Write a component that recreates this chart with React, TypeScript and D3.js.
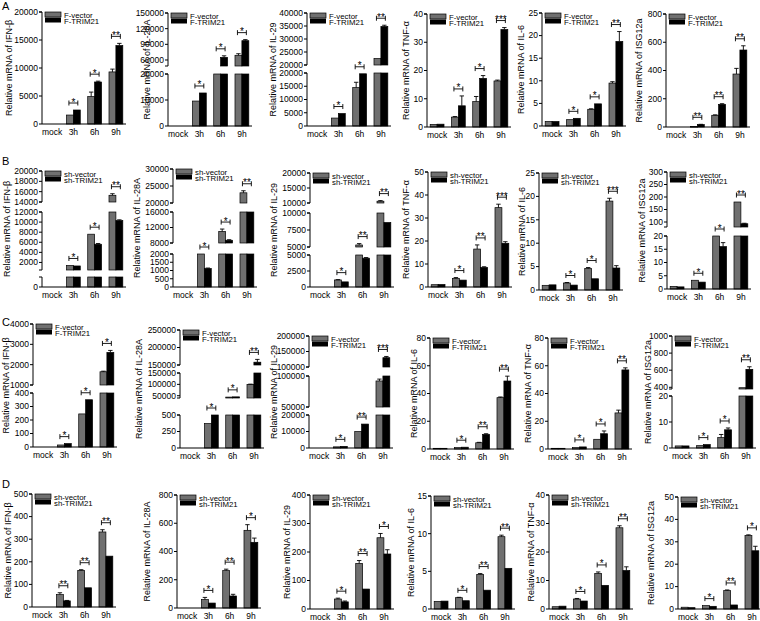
import * as d3 from "d3";

const categories = ["mock", "3h", "6h", "9h"];
const rowLetters = ["A", "B", "C", "D"];
const genesAB = ["IFN-β", "IL-28A", "IL-29", "TNF-α", "IL-6", "ISG12a"];
const genesCD = ["IFN-β", "IL-28A", "IL-29", "IL-6", "TNF-α", "ISG12a"];
const legendF = ["F-vector", "F-TRIM21"];
const legendSh = ["sh-vector", "sh-TRIM21"];

// ---- row A : overexpression
const aVector = [
  [0, 1600, 4900, 9300],
  [0, 9600, 35000, 69000],
  [0, 3000, 14500, 22500],
  [0.9, 3.5, 9, 16.3],
  [1, 1.4, 3.7, 9.5],
  [0, 3, 83, 375],
];
const aVectorErr = [
  [0, 0, 800, 500],
  [0, 0, 0, 3000],
  [0, 0, 2000, 0],
  [0, 0.2, 1.8, 0.3],
  [0, 0, 0.1, 0.3],
  [0, 0, 3, 40],
];
const aTrim = [
  [0, 2500, 7500, 14000],
  [0, 12700, 65000, 97000],
  [0, 4700, 19700, 34800],
  [1, 7.5, 17.2, 34.5],
  [1, 1.7, 4.9, 18.7],
  [0, 17, 160, 545],
];
const aTrimErr = [
  [0, 0, 150, 400],
  [0, 0, 3000, 2000],
  [0, 0, 0, 500],
  [0, 3.5, 1, 0.7],
  [0, 0, 0, 2.2],
  [0, 2, 5, 30],
];
const aStars = [
  ["*", "*", "**"], ["*", "*", "*"], ["*", "*", "**"],
  ["*", "*", "***"], ["*", "*", "**"], ["**", "**", "**"],
];
const aAxes = [
  [{ lo: 0, hi: 20000, ticks: [0, 5000, 10000, 15000, 20000] }],
  [{ lo: 0, hi: 20000, ticks: [0, 10000, 20000] }, { lo: 48500, hi: 150000, ticks: [60000, 90000, 120000, 150000] }],
  [{ lo: 0, hi: 20000, ticks: [0, 5000, 10000, 15000, 20000] }, { lo: 20000, hi: 40000, ticks: [20000, 25000, 30000, 35000, 40000] }],
  [{ lo: 0, hi: 40, ticks: [0, 10, 20, 30, 40] }],
  [{ lo: 0, hi: 25, ticks: [0, 5, 10, 15, 20, 25] }],
  [{ lo: 0, hi: 800, ticks: [0, 200, 400, 600, 800] }],
];

// ---- row B : knockdown
const bVector = [
  [0, 1400, 7600, 15300],
  [0, 3000, 11000, 23000],
  [0, 1100, 5300, 10600],
  [1, 3.7, 16.5, 34.5],
  [1, 1.5, 4.6, 19],
  [1, 3.3, 50, 180],
];
const bVectorErr = [
  [0, 0, 0, 300],
  [0, 0, 600, 600],
  [0, 50, 200, 200],
  [0, 0.4, 1.8, 1.5],
  [0, 0.1, 0.2, 0.6],
  [0, 0, 0, 0],
];
const bTrim = [
  [0, 1300, 5600, 10300],
  [0, 1120, 8700, 17000],
  [0, 800, 4500, 8600],
  [1.1, 3, 8.5, 19],
  [1.1, 1.05, 2.4, 4.7],
  [0.8, 2.6, 16, 93],
];
const bTrimErr = [
  [0, 0, 150, 150],
  [0, 30, 150, 0],
  [0, 0, 100, 0],
  [0, 0, 0.3, 0.7],
  [0, 0, 0, 0.5],
  [0, 0, 1.5, 2],
];
const bStars = [
  ["*", "*", "**"], ["*", "*", "**"], ["*", "**", "**"],
  ["*", "**", "***"], ["*", "*", "***"], ["*", "*", "**"],
];
const bAxes = [
  [{ lo: 0, hi: 500, ticks: [0] }, { lo: 500, hi: 12000, ticks: [2000, 4000, 6000, 8000, 10000, 12000] }, { lo: 14000, hi: 20000, ticks: [14000, 16000, 18000, 20000] }],
  [{ lo: 0, hi: 2000, ticks: [0, 500, 1000, 1500, 2000] }, { lo: 8000, hi: 16000, ticks: [8000, 12000, 16000] }, { lo: 20000, hi: 30000, ticks: [20000, 25000, 30000] }],
  [{ lo: 0, hi: 5000, ticks: [0, 2500, 5000] }, { lo: 5000, hi: 10000, ticks: [5000, 7500, 10000] }, { lo: 10000, hi: 20000, ticks: [10000, 15000, 20000] }],
  [{ lo: 0, hi: 50, ticks: [0, 10, 20, 30, 40, 50] }],
  [{ lo: 0, hi: 25, ticks: [0, 5, 10, 15, 20, 25] }],
  [{ lo: 0, hi: 20, ticks: [0, 5, 10, 15, 20] }, { lo: 80, hi: 300, ticks: [100, 150, 200, 250, 300] }],
];

// ---- row C : overexpression
const cVector = [
  [0, 15, 245, 1650],
  [0, 370, 44000, 100000],
  [0, 700, 10000, 92000],
  [0.5, 1, 4.5, 37],
  [0.5, 1, 7, 26],
  [0.8, 0.9, 4, 395],
];
const cVectorErr = [
  [0, 0, 0, 30],
  [0, 0, 0, 1000],
  [0, 0, 0, 3000],
  [0, 0, 0.3, 0.5],
  [0, 0, 0, 2],
  [0, 0, 1.2, 0],
];
const cTrim = [
  [0, 25, 350, 2600],
  [0, 600, 45000, 158000],
  [0, 1000, 14500, 130000],
  [0.5, 1.3, 10.5, 49],
  [0.5, 1.5, 11, 57],
  [0.8, 1.3, 7, 610],
];
const cTrimErr = [
  [0, 0, 0, 100],
  [0, 0, 0, 8000],
  [0, 0, 0, 4000],
  [0, 0, 0.5, 3.5],
  [0, 0, 2, 1.5],
  [0, 0, 0.7, 30],
];
const cStars = [
  ["*", "*", "*"], ["*", "*", "**"], ["*", "**", "***"],
  ["*", "**", "**"], ["*", "*", "**"], ["*", "*", "**"],
];
const cAxes = [
  [{ lo: 0, hi: 400, ticks: [0, 100, 200, 300, 400] }, { lo: 1000, hi: 4000, ticks: [1000, 2000, 3000, 4000] }],
  [{ lo: 0, hi: 500, ticks: [0, 250, 500] }, { lo: 40000, hi: 150000, ticks: [50000, 100000, 150000] }, { lo: 150000, hi: 250000, ticks: [150000, 200000, 250000] }],
  [{ lo: 0, hi: 20000, ticks: [0, 10000, 20000] }, { lo: 50000, hi: 100000, ticks: [50000, 100000] }, { lo: 100000, hi: 200000, ticks: [100000, 150000, 200000] }],
  [{ lo: 0, hi: 80, ticks: [0, 20, 40, 60, 80] }],
  [{ lo: 0, hi: 80, ticks: [0, 20, 40, 60, 80] }],
  [{ lo: 0, hi: 20, ticks: [0, 10, 20] }, { lo: 380, hi: 1000, ticks: [400, 600, 800, 1000] }],
];

// ---- row D : knockdown
const dVector = [
  [0, 55, 162, 332],
  [0, 60, 265, 550],
  [0, 35, 160, 250],
  [1, 1.5, 4.6, 9.6],
  [0.8, 3.5, 12.5, 28.5],
  [0.8, 1.5, 8.2, 32.8],
];
const dVectorErr = [
  [0, 8, 3, 10],
  [0, 15, 10, 40],
  [0, 3, 10, 15],
  [0, 0.05, 0.1, 0.2],
  [0, 0.2, 0.5, 0.7],
  [0, 0, 0.3, 0.3],
];
const dTrim = [
  [0, 27, 85, 225],
  [0, 35, 85, 465],
  [0, 25, 70, 193],
  [1.05, 1.1, 2.5, 5.4],
  [1, 2.8, 8.3, 13.5],
  [0.6, 1.2, 1.8, 26],
];
const dTrimErr = [
  [0, 2, 0, 0],
  [0, 0, 12, 30],
  [0, 3, 0, 15],
  [0, 0, 0, 0],
  [0, 0, 0, 1.3],
  [0, 0, 0, 2],
];
const dStars = [
  ["**", "**", "**"], ["*", "**", "*"], ["*", "**", "*"],
  ["*", "**", "**"], ["*", "*", "**"], ["*", "**", "*"],
];
const dAxes = [
  [{ lo: 0, hi: 500, ticks: [0, 100, 200, 300, 400, 500] }],
  [{ lo: 0, hi: 800, ticks: [0, 200, 400, 600, 800] }],
  [{ lo: 0, hi: 400, ticks: [0, 100, 200, 300, 400] }],
  [{ lo: 0, hi: 15, ticks: [0, 5, 10, 15] }],
  [{ lo: 0, hi: 40, ticks: [0, 10, 20, 30, 40] }],
  [{ lo: 0, hi: 50, ticks: [0, 10, 20, 30, 40, 50] }],
];

// ---- layout: y-axis x, label baseline x, pixel range of each axis segment (bottom, top)
type Lay = { ax: number; lx: number; segs: [number, number][] };
const layouts: Lay[][] = [
  [
    { ax: 42, lx: 12, segs: [[124, 12]] },
    { ax: 168, lx: 150, segs: [[126, 74], [66, 13]] },
    { ax: 307, lx: 276, segs: [[126, 73], [65, 13]] },
    { ax: 427, lx: 409, segs: [[127, 14]] },
    { ax: 542, lx: 524, segs: [[126, 13]] },
    { ax: 666, lx: 642, segs: [[127, 14]] },
  ],
  [
    { ax: 42, lx: 10, segs: [[287, 277], [270, 212], [202, 171]] },
    { ax: 173, lx: 140, segs: [[287, 254], [243, 212], [203, 169]] },
    { ax: 310, lx: 277, segs: [[287, 255], [247, 213], [203, 173]] },
    { ax: 428, lx: 409, segs: [[287, 172]] },
    { ax: 539, lx: 525, segs: [[290, 173]] },
    { ax: 667, lx: 645, segs: [[289, 236], [227, 172]] },
  ],
  [
    { ax: 33, lx: 9, segs: [[447, 393], [385, 324]] },
    { ax: 180, lx: 142, segs: [[448, 415], [398, 373], [365, 330]] },
    { ax: 309, lx: 277, segs: [[448, 415], [407, 376], [367, 336]] },
    { ax: 430, lx: 417, segs: [[449, 338]] },
    { ax: 548, lx: 531, segs: [[449, 338]] },
    { ax: 672, lx: 651, segs: [[448, 396], [389, 336]] },
  ],
  [
    { ax: 32, lx: 11, segs: [[607, 494]] },
    { ax: 177, lx: 150, segs: [[608, 495]] },
    { ax: 310, lx: 290, segs: [[609, 495]] },
    { ax: 431, lx: 414, segs: [[609, 496]] },
    { ax: 549, lx: 534, segs: [[609, 495]] },
    { ax: 678, lx: 654, segs: [[609, 497]] },
  ],
];
const letterY = [10, 165, 326, 488];

type Seg = { lo: number; hi: number; ticks: number[] };

const FONT = "'Liberation Sans', Arial, sans-serif";
const GRAY = "#707070";

function Panel(props: {
  gene: string; legend: string[]; ctrl: number[]; trim: number[];
  ctrlErr: number[]; trimErr: number[]; stars: string[]; axis: Seg[]; lay: Lay;
}) {
  const { gene, legend, ctrl, trim, ctrlErr, trimErr, stars, axis, lay } = props;
  const ax = lay.ax;
  const x = d3.scaleBand().domain(categories).range([ax, ax + 84]).paddingInner(0.35).paddingOuter(0.15);
  const xi = d3.scaleBand().domain(["v", "t"]).range([0, x.bandwidth()]);
  const sc = axis.map((s, i) => d3.scaleLinear().domain([s.lo, s.hi]).range(lay.segs[i]));
  const base = lay.segs[0][0];
  const top = lay.segs[lay.segs.length - 1][1];

  const yOf = (v: number) => {
    for (let i = 0; i < axis.length; i++) {
      if (v <= axis[i].hi) {
        if (v >= axis[i].lo) return sc[i](v);
        return i > 0 ? sc[i - 1](axis[i - 1].hi) : sc[0](axis[0].lo);
      }
    }
    return sc[axis.length - 1](axis[axis.length - 1].hi);
  };
  const inSeg = (v: number) => axis.some(s => v >= s.lo && v <= s.hi);

  const series = [
    { key: "v", vals: ctrl, errs: ctrlErr, fill: GRAY },
    { key: "t", vals: trim, errs: trimErr, fill: "#000" },
  ];
  const bw = xi.bandwidth();

  return (
    <g fontFamily={FONT}>
      {/* bars, cut into the axis segments */}
      {series.map(s =>
        s.vals.map((v, ci) =>
          axis.map((seg, si) => {
            if (v <= seg.lo) return null;
            const t = Math.min(v, seg.hi);
            const y0 = sc[si](seg.lo);
            const y1 = sc[si](t);
            return (
              <rect key={`${s.key}${ci}${si}`} x={x(categories[ci])! + xi(s.key)!} y={y1}
                width={bw} height={Math.max(0.6, y0 - y1)} fill={s.fill} stroke="#000" strokeWidth={0.7} />
            );
          })
        )
      )}
      {/* error bars */}
      {series.map(s =>
        s.vals.map((v, ci) => {
          const e = s.errs[ci];
          if (!e || !inSeg(v)) return null;
          const cx = x(categories[ci])! + xi(s.key)! + bw / 2;
          const y1 = yOf(v + e);
          return (
            <g key={`e${s.key}${ci}`} stroke="#000" strokeWidth={0.9}>
              <line x1={cx} x2={cx} y1={yOf(v)} y2={y1} />
              <line x1={cx - 2.2} x2={cx + 2.2} y1={y1} y2={y1} />
            </g>
          );
        })
      )}
      {/* significance brackets */}
      {stars.map((st, k) => {
        const ci = k + 1;
        const yt = Math.min(yOf(ctrl[ci] + ctrlErr[ci]), yOf(trim[ci] + trimErr[ci])) - 7;
        const x1 = x(categories[ci])! + bw / 2 - 1;
        const x2 = x(categories[ci])! + bw * 1.5 + 1;
        return (
          <g key={`s${k}`}>
            <g stroke="#000" strokeWidth={0.9}>
              <line x1={x1} x2={x2} y1={yt} y2={yt} />
              <line x1={x1} x2={x1} y1={yt - 2.5} y2={yt + 2.5} />
              <line x1={x2} x2={x2} y1={yt - 2.5} y2={yt + 2.5} />
            </g>
            <text x={(x1 + x2) / 2} y={yt + 2.5} fontSize={10} textAnchor="middle">{st}</text>
          </g>
        );
      })}
      {/* y axis segments */}
      {axis.map((seg, si) => (
        <g key={`ya${si}`}>
          <line x1={ax} x2={ax} y1={lay.segs[si][0]} y2={lay.segs[si][1]} stroke="#000" strokeWidth={1} />
          <line x1={ax - 3} x2={ax} y1={lay.segs[si][1]} y2={lay.segs[si][1]} stroke="#000" strokeWidth={1} />
          {si > 0 && <line x1={ax - 3} x2={ax} y1={lay.segs[si][0]} y2={lay.segs[si][0]} stroke="#000" strokeWidth={1} />}
          {seg.ticks.map(t => (
            <g key={t}>
              <line x1={ax - 3} x2={ax} y1={sc[si](t)} y2={sc[si](t)} stroke="#000" strokeWidth={1} />
              <text x={ax - 4} y={sc[si](t)} dy="0.34em" fontSize={8.5} textAnchor="end">{t}</text>
            </g>
          ))}
        </g>
      ))}
      {/* x axis */}
      <line x1={ax} x2={ax + 84} y1={base} y2={base} stroke="#000" strokeWidth={1} />
      {categories.map(c => (
        <text key={c} x={x(c)! + x.bandwidth() / 2} y={base + 11} fontSize={8.5} textAnchor="middle">{c}</text>
      ))}
      {/* y label */}
      <text transform={`translate(${lay.lx},${(base + top) / 2}) rotate(-90)`} fontSize={9} textAnchor="middle">
        {`Relative mRNA of ${gene}`}
      </text>
      {/* legend */}
      <rect x={ax + 3} y={top} width={16} height={5} fill={GRAY} stroke="#000" strokeWidth={0.7} />
      <rect x={ax + 3} y={top + 5.5} width={16} height={5} fill="#000" />
      <text x={ax + 22} y={top + 5.5} fontSize={7.8}>{legend[0]}</text>
      <text x={ax + 22} y={top + 11.5} fontSize={7.8}>{legend[1]}</text>
    </g>
  );
}

const rows = [
  { genes: genesAB, legend: legendF, v: aVector, ve: aVectorErr, t: aTrim, te: aTrimErr, s: aStars, axes: aAxes },
  { genes: genesAB, legend: legendSh, v: bVector, ve: bVectorErr, t: bTrim, te: bTrimErr, s: bStars, axes: bAxes },
  { genes: genesCD, legend: legendF, v: cVector, ve: cVectorErr, t: cTrim, te: cTrimErr, s: cStars, axes: cAxes },
  { genes: genesCD, legend: legendSh, v: dVector, ve: dVectorErr, t: dTrim, te: dTrimErr, s: dStars, axes: dAxes },
];

export default function App() {
  return (
    <svg width={760} height={621} style={{ position: "absolute", left: 0, top: 0, background: "#fff" }}>
      <rect width={760} height={621} fill="#fff" />
      {rows.map((r, ri) => (
        <g key={ri}>
          <text x={2} y={letterY[ri]} fontSize={11} fontFamily={FONT}>{rowLetters[ri]}</text>
          {r.genes.map((g, pi) => (
            <Panel key={pi} gene={g} legend={r.legend} ctrl={r.v[pi]} trim={r.t[pi]}
              ctrlErr={r.ve[pi]} trimErr={r.te[pi]} stars={r.s[pi]} axis={r.axes[pi]} lay={layouts[ri][pi]} />
          ))}
        </g>
      ))}
    </svg>
  );
}
